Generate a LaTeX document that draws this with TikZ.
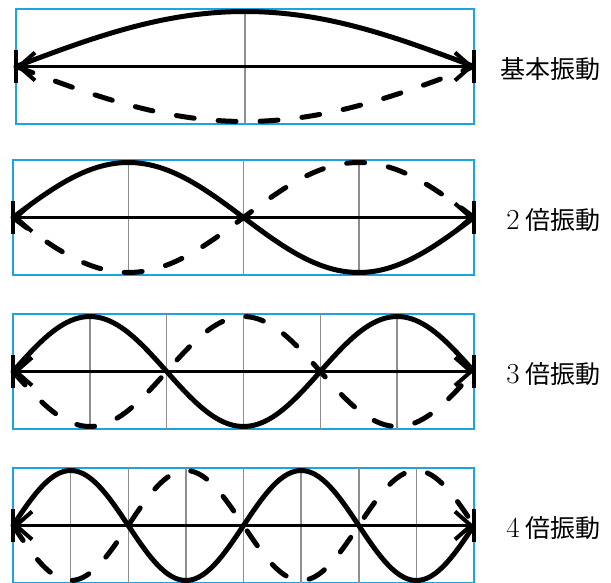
\documentclass[tikz,border=0pt]{standalone}
\usepackage{fontspec}
\newfontfamily\jpfont{Noto Sans CJK JP}
\usetikzlibrary{arrows.meta}
\definecolor{framecyan}{HTML}{1BA3E2}
\definecolor{gridgray}{HTML}{8E8E8E}
\newcommand{\modenum}[1]{{\fontsize{29}{30}\selectfont #1}\hspace{6pt}}
\tikzset{
  frame/.style={draw=framecyan, line width=1.5pt},
  gridline/.style={draw=gridgray, line width=1.5pt},
  axisline/.style={{Straight Barb[length=16pt, width=28pt, line width=4pt]}-{Straight Barb[length=16pt, width=28pt, line width=4pt]},
    line width=3pt},
  fixend/.style={line width=4pt},
  wave/.style={line width=5pt, line join=round},
  wavedash/.style={wave, line cap=round, dash pattern=on 18pt off 24pt},
  modelabel/.style={anchor=east, inner sep=0pt, font=\fontsize{25}{30}\selectfont}
}
\begin{document}
\begin{tikzpicture}[x=1pt, y=-1pt]
\useasboundingbox (0,0) rectangle (611,583);
% one panel per mode: n / top edge / left edge / label
\foreach \n/\top/\lft/\txt in {1/9/16/{\jpfont 基本振動},
                                2/160/13/{\modenum{2}\jpfont 倍振動},
                                3/314/13/{\modenum{3}\jpfont 倍振動},
                                4/468/13/{\modenum{4}\jpfont 倍振動}}{
  \pgfmathsetmacro{\mid}{\top+57.5}
  \pgfmathsetmacro{\wid}{474-\lft}
  \coordinate (L\n) at (\lft,\mid);
  \coordinate (R\n) at (474,\mid);
  \draw[frame] (\lft,\top) rectangle (474,\top+115);
  \pgfmathtruncatemacro{\last}{2*\n-1}
  \foreach \k in {1,...,\last}
    \draw[gridline] (\lft+\k*\wid/2/\n,\top) -- (\lft+\k*\wid/2/\n,\top+115);
  \draw[wavedash] plot[domain=0:1, samples=120] ({\lft+\x*\wid},{\mid+55*sin(180*\n*\x)});
  \draw[wave] plot[domain=0:1, samples=120] ({\lft+\x*\wid},{\mid-55*sin(180*\n*\x)});
  \draw[axisline] (L\n) -- (R\n);
  \draw[fixend] ([yshift=-16.5pt]L\n) -- ([yshift=16.5pt]L\n);
  \draw[fixend] ([yshift=-16.5pt]R\n) -- ([yshift=16.5pt]R\n);
  \node[modelabel] (lab\n) at (601,\mid+3) {\txt};
}
\end{tikzpicture}
\end{document}
